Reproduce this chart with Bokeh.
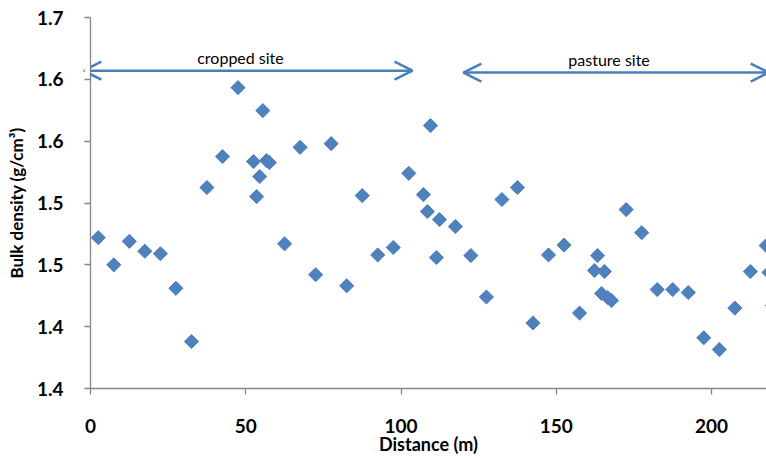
import numpy as np
from bokeh.plotting import figure
from bokeh.models import Range1d, Arrow, OpenHead, Label, FixedTicker, ColumnDataSource
from bokeh.embed import file_html
from bokeh.resources import INLINE

# Data
distance = [2.5, 7.5, 12.5, 17.5, 22.5, 27.5, 32.5, 37.5, 42.5, 47.5,
            52.5, 53.5, 54.5, 55.5, 56.7, 57.6, 62.5, 67.5, 72.5, 77.5,
            82.5, 87.5, 92.5, 97.5, 102.5, 107.2, 108.5, 109.5, 112.4, 111.4,
            117.5, 122.5, 127.5, 132.5, 137.5, 142.5, 147.5, 152.5, 157.5, 162.3,
            163.3, 164.6, 165.5, 166.5, 167.8, 172.5, 177.5, 182.5, 187.5, 192.5,
            197.5, 202.5, 207.5, 212.5, 217.6, 218.5, 219.6]
bulk_density = [1.472, 1.450, 1.469, 1.461, 1.459, 1.431, 1.388, 1.5125, 1.5376, 1.5933,
                1.5335, 1.5052, 1.5214, 1.5747, 1.5343, 1.5327, 1.467, 1.545, 1.442, 1.548,
                1.433, 1.506, 1.458, 1.464, 1.524, 1.5068, 1.4931, 1.5626, 1.4866, 1.4559,
                1.481, 1.4575, 1.424, 1.5028, 1.5125, 1.403, 1.458, 1.466, 1.411, 1.4454,
                1.4575, 1.4268, 1.4446, 1.4236, 1.4211, 1.4947, 1.476, 1.430, 1.430, 1.4276,
                1.391, 1.3815, 1.415, 1.4446, 1.4656, 1.4438, 1.4171]

x_ticks = [0, 50, 100, 150, 200]
y_ticks = [1.35, 1.40, 1.45, 1.50, 1.55, 1.60, 1.65]
y_tick_labels = ["1.4", "1.4", "1.5", "1.5", "1.6", "1.6", "1.7"]

x_title = "Distance (m)"
y_title = "Bulk density (g/cm³)"
site_labels = ["cropped site", "pasture site"]

AX = "#868686"
BLUE = "#4F81BD"
ARROW = "#4A7EBB"
FONT = "Lato"

p = figure(width=766, height=458, output_backend="svg", toolbar_location=None,
           x_range=Range1d(0, 217.7), y_range=Range1d(1.35, 1.65),
           min_border_left=90, min_border_right=0, min_border_top=17, min_border_bottom=70)
p.outline_line_color = None
p.grid.visible = False
p.background_fill_color = "white"
p.border_fill_color = "white"

src = ColumnDataSource(dict(x=distance, y=bulk_density))
p.scatter("x", "y", source=src, marker="square", size=10, angle=np.pi / 4,
          fill_color=BLUE, line_color=BLUE)

for ax in (p.xaxis[0], p.yaxis[0]):
    ax.axis_line_color = AX
    ax.axis_line_width = 1.3
    ax.major_tick_line_color = AX
    ax.major_tick_line_width = 1.3
    ax.major_tick_out = 6
    ax.major_tick_in = 0
    ax.minor_tick_line_color = None
    ax.major_label_text_font = FONT
    ax.major_label_text_font_style = "bold"
    ax.major_label_text_font_size = "19px"
    ax.major_label_text_color = "black"
    ax.axis_label_text_font = FONT
    ax.axis_label_text_font_style = "bold"
    ax.axis_label_text_color = "black"

p.xaxis.axis_label_text_font_size = "18px"
p.yaxis.axis_label_text_font_size = "17px"
p.xaxis.ticker = FixedTicker(ticks=x_ticks)
p.yaxis.ticker = FixedTicker(ticks=y_ticks)
p.yaxis.major_label_overrides = {t: l for t, l in zip(y_ticks, y_tick_labels)}
p.xaxis.axis_label = x_title
p.yaxis.axis_label = y_title
p.xaxis.major_label_standoff = 24
p.yaxis.major_label_standoff = 21
p.xaxis.axis_label_standoff = -3
p.yaxis.axis_label_standoff = 7

# Site arrows
arrows = [(-2.3, 103.7, 1.607), (120.1, 218.4, 1.6055)]
for (xs, xe, yy) in arrows:
    p.add_layout(Arrow(x_start=xs, y_start=yy, x_end=xe, y_end=yy,
                       line_color=ARROW, line_width=2.5,
                       start=OpenHead(size=18, line_color=ARROW, line_width=2.5),
                       end=OpenHead(size=18, line_color=ARROW, line_width=2.5)))

label_pos = [(48.3, 1.607), (167.0, 1.6055)]
for txt, (lx, ly) in zip(site_labels, label_pos):
    p.add_layout(Label(x=lx, y=ly, text=txt, text_align="center", text_baseline="bottom",
                       y_offset=4, text_font=FONT, text_font_size="16px", text_color="black"))

open("out.html", "w").write(file_html(p, INLINE))
